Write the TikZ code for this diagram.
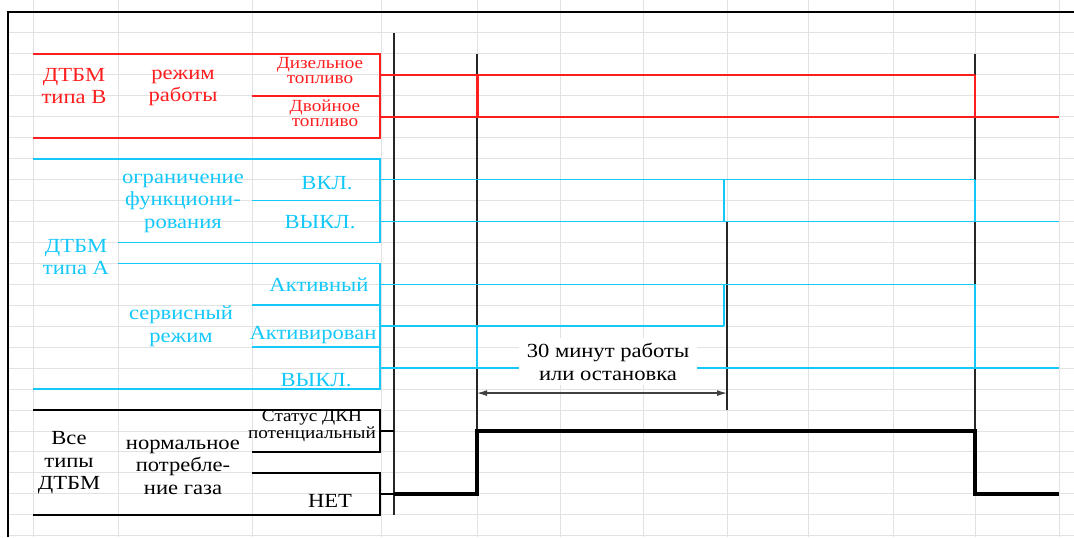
\documentclass[tikz,border=0pt]{standalone}
\usepackage{fontspec}
\setmainfont{Liberation Serif}[FakeStretch=1.13]
\usetikzlibrary{arrows.meta}
\definecolor{tred}{RGB}{255,30,30}
\definecolor{tcyan}{RGB}{20,200,250}
\definecolor{gridgray}{RGB}{226,226,226}

\begin{document}
\begin{tikzpicture}[
  x=1pt, y=-20.95pt,
  font=\rmfamily\fontsize{20}{22.5}\selectfont,
  >={Latex[length=10pt,width=6pt]},
  lbl/.style={align=center, inner sep=0pt},
  small/.style={lbl, font=\rmfamily\fontsize{17}{15}\selectfont},
  cell/.style={draw=gridgray, line width=1pt},
  redline/.style={draw=tred, line width=1.8pt},
  cyanline/.style={draw=tcyan, line width=1.7pt},
  blkline/.style={draw=black, line width=1.4pt},
  marker/.style={draw=black!85, line width=1.5pt},
  signal/.style={draw=black, line width=3.4pt},
  dim/.style={<->, draw=black!75, line width=1.2pt}
]
\useasboundingbox (0,-0.5728) rectangle (1074,25.06);

% Spreadsheet grid
\foreach \k in {1,...,25}
  \draw[cell] (9,\k) -- (1074,\k);
\foreach \x in {33,118,252,381,477,560,643,727,808,893,975,1059}
  \draw[cell] (\x,-0.5728) -- (\x,25.06);
\draw[line width=2.4pt] (8,25.06) -- (8,0) -- (1074,0);

% Time markers
\draw[marker] (394,1) -- (394,24);
\draw[marker] (477,2) -- (477,20);
\draw[marker] (727,10) -- (727,19);
\draw[marker] (975,2) -- (975,20);

% DTBM type B
\draw[redline] (33,2) -- (380,2) -- (380,6) -- (33,6);
\draw[redline] (252,4) -- (380,4);
\node[lbl, text=tred] (typeB) at (74,3.53) {ДТБМ\\типа B};
\node[lbl, text=tred] (modeB) at (183,3.63) {режим\\работы};
\node[small, text=tred] (diesel) at (320,2.77) {Дизельное\\топливо};
\node[small, text=tred] (dual) at (325,4.82) {Двойное\\топливо};
\draw[redline] (380,3) -- (975,3);
\draw[redline] (380,5) -- (1059,5);
\draw[tred, line width=3pt] (477,3) -- (477,5);
\draw[redline] (975,3) -- (975,5);

% DTBM type A
\draw[cyanline] (33,7) -- (380,7) -- (380,11) -- (118,11);
\draw[cyanline] (252,9) -- (380,9);
\draw[cyanline] (118,12) -- (380,12) -- (380,18) -- (33,18);
\draw[cyanline] (252,14) -- (380,14);
\draw[cyanline] (252,16) -- (380,16);
\node[lbl, text=tcyan] (typeA) at (76,11.69) {ДТБМ\\типа A};
\node[lbl, text=tcyan] (limit) at (183,9.12) {ограничение\\функциони-\\рования};
\node[lbl, text=tcyan] (limOn) at (327,8.16) {ВКЛ.};
\node[lbl, text=tcyan] (limOff) at (320,10.02) {ВЫКЛ.};
\node[lbl, text=tcyan] (srvAct) at (319,13.03) {Активный};
\node[lbl, text=tcyan] (service) at (181,14.99) {сервисный\\режим};
\node[lbl, text=tcyan] (srvArm) at (313,15.42) {Активирован};
\node[lbl, text=tcyan] (srvOff) at (316,17.57) {ВЫКЛ.};
\draw[cyanline] (380,8) -- (975,8);
\draw[cyanline] (380,10) -- (1059,10);
\draw[cyanline] (724,8) -- (724,10);
\draw[cyanline] (975,8) -- (975,10);
\draw[cyanline] (380,13) -- (975,13);
\draw[cyanline] (380,15) -- (724,15);
\draw[cyanline] (380,17) -- (1059,17);
\draw[tcyan, line width=2.8pt] (477,15) -- (477,17);
\draw[cyanline] (724,13) -- (724,15);
\draw[cyanline] (975,13) -- (975,17);

% All DTBM types
\draw[blkline] (33,19) -- (380,19) -- (380,21) -- (252,21);
\draw[blkline] (252,22) -- (380,22) -- (380,24) -- (33,24);
\node[lbl] (allTypes) at (69,21.53) {Все\\типы\\ДТБМ};
\node[lbl] (gasUse) at (183,21.72) {нормальное\\потребле-\\ние газа};
\node[small] (status) at (312,19.76) {Статус ДКН\\потенциальный};
\node[lbl] (none) at (330,23.34) {НЕТ};
\draw[blkline] (380,20) -- (394,20);
\draw[blkline] (380,23) -- (394,23);
\draw[signal] (394,23) -- (477,23) -- (477,20) -- (975,20) -- (975,23) -- (1059,23);

% Duration
\node[lbl, fill=white, inner xsep=8pt, inner ysep=5pt] (span) at (608,16.7) {30 минут работы\\или остановка};
\coordinate (spanL) at (477,18.19);
\coordinate (spanR) at (727,18.19);
\draw[dim] (spanL) -- (spanR);

\end{tikzpicture}
\end{document}
